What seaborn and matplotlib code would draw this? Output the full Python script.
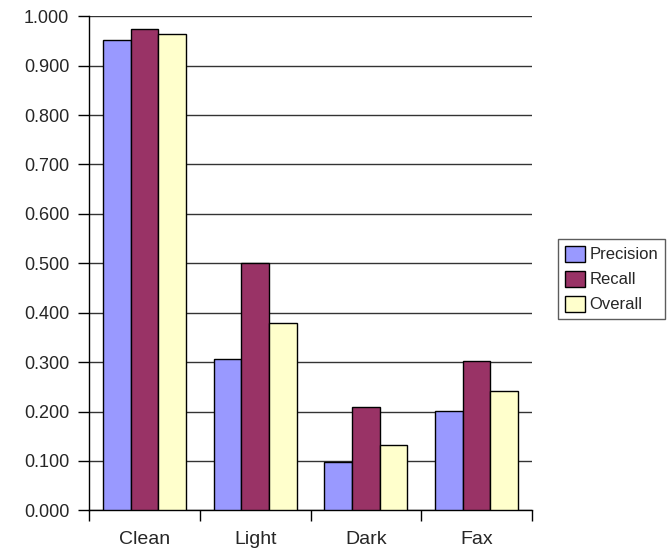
import matplotlib
matplotlib.use("Agg")
import matplotlib.pyplot as plt
from matplotlib.ticker import FixedLocator, FormatStrFormatter
import seaborn as sns
import pandas as pd

categories = ["Clean", "Light", "Dark", "Fax"]
series = ["Precision", "Recall", "Overall"]
precision = [0.952, 0.306, 0.097, 0.202]
recall = [0.974, 0.500, 0.209, 0.302]
overall = [0.964, 0.379, 0.132, 0.241]
colors = ["#9999FF", "#993366", "#FFFFCC"]

rows = []
for name, vals in zip(series, [precision, recall, overall]):
    for cat, v in zip(categories, vals):
        rows.append({"category": cat, "series": name, "value": v})
df = pd.DataFrame(rows)

sns.set_style("white")
plt.rcParams["font.family"] = ["Liberation Sans", "DejaVu Sans"]

fig = plt.figure(figsize=(6.69, 5.52), dpi=100)
ax = fig.add_axes([0.1335, 0.0755, 0.6615, 0.895])

sns.barplot(data=df, x="category", y="value", hue="series", order=categories,
            hue_order=series, palette=colors, width=0.75, gap=0,
            edgecolor="black", linewidth=1.0, saturation=1, ax=ax, zorder=3)

ax.set_ylim(0, 1.0)
ax.set_xlim(-0.5, len(categories) - 0.5)
ax.set_yticks([i / 10 for i in range(11)])
ax.yaxis.set_major_formatter(FormatStrFormatter("%.3f"))
ax.grid(axis="y", color="#333333", linewidth=1.0, zorder=0)
ax.set_axisbelow(True)

ax.set_xlabel("")
ax.set_ylabel("")
for s in ["top", "right"]:
    ax.spines[s].set_visible(False)
for s in ["left", "bottom"]:
    ax.spines[s].set_color("black")
    ax.spines[s].set_linewidth(1.0)

ax.tick_params(axis="y", which="major", left=True, length=8, width=1,
               color="black", labelsize=13, pad=6.5)
ax.tick_params(axis="x", which="major", bottom=False, length=0,
               labelsize=14, pad=15)
ax.xaxis.set_minor_locator(FixedLocator([i - 0.5 for i in range(len(categories) + 1)]))
ax.tick_params(axis="x", which="minor", bottom=True, length=8, width=1, color="black")

ax.legend_.remove()
handles, labels = ax.get_legend_handles_labels()
leg = fig.legend(handles, labels, loc="upper left",
                 bbox_to_anchor=(558 / 669, 1 - 239 / 552),
                 frameon=True, fancybox=False, edgecolor="#333333",
                 fontsize=12, handlelength=1.2, handleheight=1.1,
                 handletextpad=0.3, borderpad=0.4, labelspacing=0.5,
                 borderaxespad=0)
leg.get_frame().set_linewidth(1.0)

fig.savefig("out.png", dpi=100)
